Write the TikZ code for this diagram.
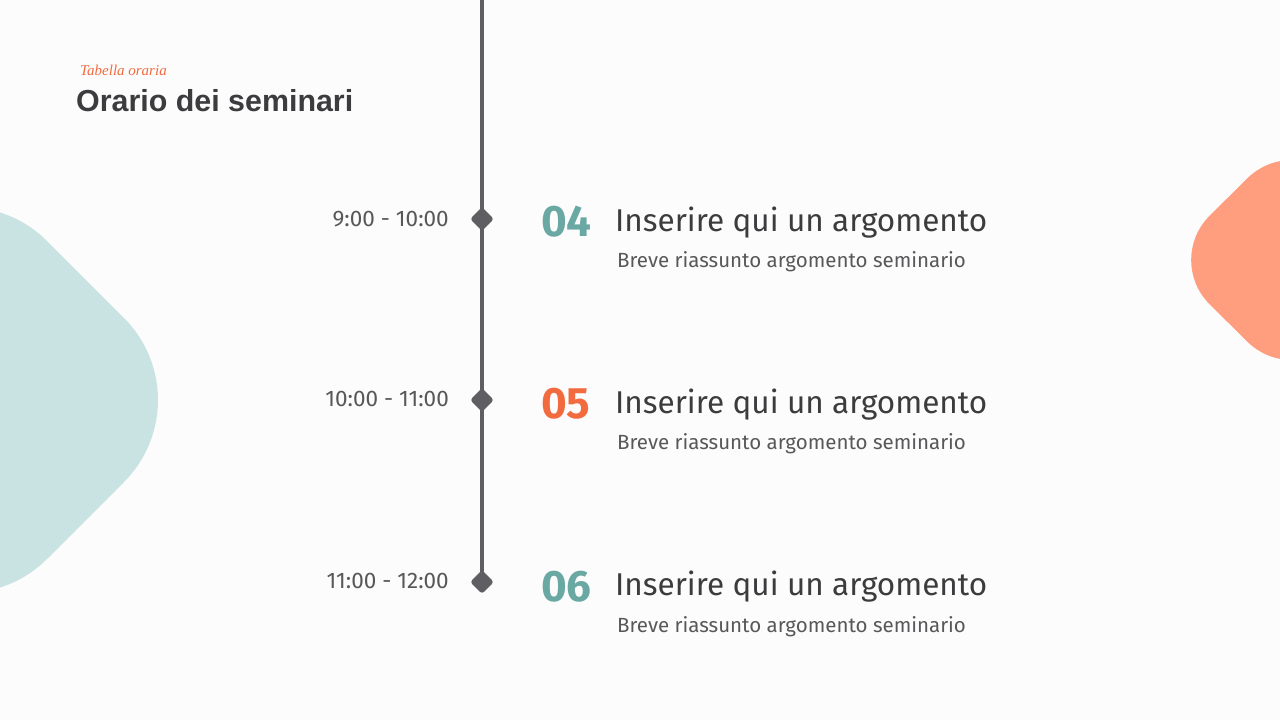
\documentclass[tikz,border=0pt]{standalone}
\usepackage{fontspec}
\setmainfont{Fira Sans}
\newfontfamily\headfont{Liberation Sans}
\newfontfamily\handfont{Liberation Serif}
\usetikzlibrary{shapes.geometric}

\definecolor{paper}{HTML}{FCFCFC}
\definecolor{ink}{HTML}{3C3C3E}
\definecolor{greytext}{HTML}{58585A}
\definecolor{rail}{HTML}{5F5E62}
\definecolor{tealnum}{HTML}{6AA8A4}
\definecolor{tealblob}{HTML}{C9E3E3}
\definecolor{orangenum}{HTML}{F26B3F}
\definecolor{orangeblob}{HTML}{FF9E7E}

\begin{document}
\begin{tikzpicture}[x=1pt, y=-1pt,
	time/.style={anchor=base east, inner sep=0pt, text=greytext, font=\fontsize{22.5}{26}\selectfont},
	num/.style={anchor=base west, inner sep=0pt, font=\fontsize{44}{48}\selectfont\bfseries},
	topic/.style={anchor=base west, inner sep=0pt, text=ink, font=\fontsize{31.5}{36}\selectfont},
	summary/.style={anchor=base west, inner sep=0pt, text=greytext, font=\fontsize{20.5}{24}\selectfont},
	knot/.style={diamond, fill=rail, inner sep=0pt, minimum size=24pt, rounded corners=3pt}]
	\useasboundingbox (0,0) rectangle (1280,720);
	\fill[paper] (0,0) rectangle (1280,720);

	% background blobs
	\fill[tealblob, rounded corners=116pt] (-35,159) -- (206,400) -- (-35,641) -- (-276,400) -- cycle;
	\fill[orangeblob, rounded corners=63pt] (1292,134) -- (1418,260) -- (1292,386) -- (1165,260) -- cycle;

	% heading
	\node[anchor=base west, inner sep=0pt, text=orangenum, font=\handfont\itshape\fontsize{15}{18}\selectfont] (kicker) at (80,75) {Tabella oraria};
	\node[anchor=base west, inner sep=0pt, text=ink, font=\headfont\bfseries\fontsize{30.4}{34}\selectfont] (title) at (76,111) {Orario dei seminari};

	% timeline
	\coordinate (top) at (482,0);
	\node[knot] (k1) at (482,219) {};
	\node[knot] (k2) at (482,400) {};
	\node[knot] (k3) at (482,582) {};
	\draw[rail, line width=4pt] (top) -- (k3.center);

	\node[time] (t1) at (449,226) {9:00 - 10:00};
	\node[time] (t2) at (449,406) {10:00 - 11:00};
	\node[time] (t3) at (449,588) {11:00 - 12:00};

	\node[num, text=tealnum] (n1) at (541,236) {04};
	\node[num, text=orangenum] (n2) at (541,418) {05};
	\node[num, text=tealnum] (n3) at (541,601) {06};

	\node[topic] (a1) at (615,231) {Inserire qui un argomento};
	\node[topic] (a2) at (615,413) {Inserire qui un argomento};
	\node[topic] (a3) at (615,595) {Inserire qui un argomento};

	\node[summary] (s1) at (617,267) {Breve riassunto argomento seminario};
	\node[summary] (s2) at (617,449) {Breve riassunto argomento seminario};
	\node[summary] (s3) at (617,632) {Breve riassunto argomento seminario};
\end{tikzpicture}
\end{document}
